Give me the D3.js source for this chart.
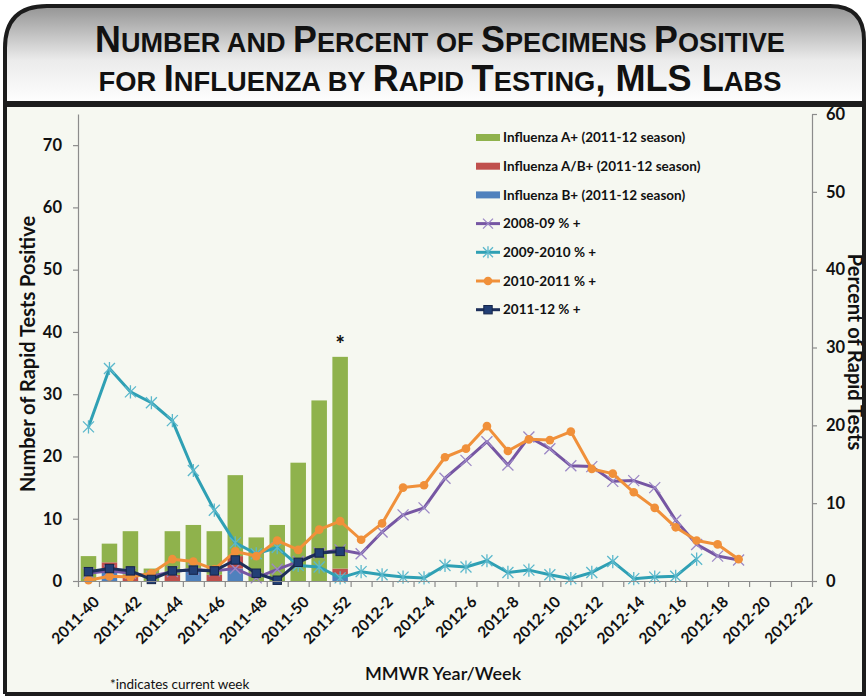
<!DOCTYPE html>
<html>
<head>
<meta charset="utf-8">
<script src="https://cdn.jsdelivr.net/npm/d3@7/dist/d3.min.js"></script>
<style>
  html, body { margin: 0; padding: 0; background: #ffffff; }
  svg { display: block; }
</style>
</head>
<body>
<svg id="chart" width="867" height="696"></svg>
<script>
// MMWR weeks, 2011-40 through 2012-22
const weeks = [
  "2011-40","2011-41","2011-42","2011-43","2011-44","2011-45","2011-46","2011-47",
  "2011-48","2011-49","2011-50","2011-51","2011-52",
  "2012-1","2012-2","2012-3","2012-4","2012-5","2012-6","2012-7","2012-8","2012-9",
  "2012-10","2012-11","2012-12","2012-13","2012-14","2012-15","2012-16","2012-17",
  "2012-18","2012-19","2012-20","2012-21","2012-22"
];

// Number of positive rapid tests, 2011-12 season (stacked)
const fluB  = [0, 2, 0, 0, 0, 2, 0, 2, 0, 0, 0, 0, 1];
const fluAB = [0, 1, 1, 0, 1, 0, 1, 2, 0, 0, 0, 0, 1];
const fluA  = [4, 3, 7, 2, 7, 7, 7, 13, 7, 9, 19, 29, 34];

// Percent of rapid tests positive, by season
const pct0809 = [1.0, 1.3, 1.0, 0.6, 1.2, 1.5, 1.3, 1.6, 0.4, 1.5, 2.5, 3.6, 4.0,
  3.5, 6.3, 8.5, 9.4, 13.2, 15.5, 17.9, 14.9, 18.5, 17.0, 14.8, 14.7, 12.8, 12.9,
  12.0, 7.8, 4.7, 3.2, 2.7];
const pct0910 = [19.8, 27.3, 24.3, 22.9, 20.6, 14.2, 9.1, 4.9, 3.5, 4.3, 2.0, 1.8, 0.4,
  1.2, 0.8, 0.5, 0.4, 2.0, 1.8, 2.6, 1.1, 1.4, 0.8, 0.3, 1.1, 2.5, 0.3, 0.5, 0.6, 2.8];
const pct1011 = [0.1, 0.6, 0.5, 1.0, 2.8, 2.5, 1.5, 3.8, 3.2, 5.2, 4.0, 6.6, 7.7,
  5.3, 7.4, 12.0, 12.3, 15.9, 17.0, 19.9, 16.7, 18.2, 18.1, 19.2, 14.4, 13.8, 11.4,
  9.4, 6.9, 5.2, 4.7, 2.8];
const pct1112 = [1.2, 1.6, 1.3, 0.2, 1.3, 1.4, 1.3, 2.7, 1.0, 0.1, 2.4, 3.6, 3.8];

const countTicks = [0, 10, 20, 30, 40, 50, 60, 70];
const pctTicks = [0, 10, 20, 30, 40, 50, 60];
const currentWeek = "2011-52";

const titleLines = [
  "Number and Percent of Specimens Positive",
  "for Influenza by Rapid Testing, MLS Labs"
];

const barSeries = [
  { name: "Influenza B+ (2011-12 season)",  values: fluB,  color: "#4f81bd" },
  { name: "Influenza A/B+ (2011-12 season)", values: fluAB, color: "#c0504d" },
  { name: "Influenza A+ (2011-12 season)",  values: fluA,  color: "#8fb24c" }
];
const lineSeries = [
  { name: "2008-09 % +",   values: pct0809, color: "#7656a3", mark: "x",      markColor: "#9c88c6" },
  { name: "2009-2010 % +", values: pct0910, color: "#2fa0b4", mark: "star",   markColor: "#5bb8cc" },
  { name: "2010-2011 % +", values: pct1011, color: "#f0903a", mark: "circle", markColor: "#f0903a" },
  { name: "2011-12 % +",   values: pct1112, color: "#1d2f5a", mark: "square", markColor: "#223f75" }
];

const W = 867, H = 696;
const plot = { left: 78, right: 812, top: 114, bottom: 581 };
const labelFont = "Lato, 'Open Sans', sans-serif";

const svg = d3.select("#chart");
const defs = svg.append("defs");

const hdr = defs.append("linearGradient").attr("id", "hdrGrad")
  .attr("x1", 0).attr("y1", 0).attr("x2", 0).attr("y2", 1);
hdr.append("stop").attr("offset", "0%").attr("stop-color", "#949494");
hdr.append("stop").attr("offset", "55%").attr("stop-color", "#ebebeb");
hdr.append("stop").attr("offset", "100%").attr("stop-color", "#ffffff");

// Panel background
svg.append("rect").attr("x", 5).attr("y", 100).attr("width", 859).attr("height", 593)
  .attr("fill", "#f6f8f1");

// Scales
const x = d3.scaleBand().domain(weeks).range([plot.left, plot.right])
  .paddingInner(0.26).paddingOuter(0.13);
const xEdge = d3.scaleLinear().domain([0, weeks.length]).range([plot.left, plot.right]);
const yCount = d3.scaleLinear().domain([0, 75]).range([plot.bottom, plot.top]);
const yPct = d3.scaleLinear().domain([0, 60]).range([plot.bottom, plot.top]);
const cx = w => x(w) + x.bandwidth() / 2;

// Stacked columns
const rows = weeks.map((w, i) => {
  const r = { week: w };
  barSeries.forEach(s => { r[s.name] = s.values[i] || 0; });
  return r;
}).filter((r, i) => i < fluA.length);
const stack = d3.stack().keys(barSeries.map(s => s.name))(rows);

const barG = svg.append("g");
stack.forEach((layer, k) => {
  barG.selectAll(null).data(layer).join("rect")
    .attr("x", d => x(d.data.week))
    .attr("width", x.bandwidth())
    .attr("y", d => yCount(d[1]))
    .attr("height", d => yCount(d[0]) - yCount(d[1]))
    .attr("fill", barSeries[k].color);
});

// Marker shapes
function drawMarker(g, type, color, size) {
  const s = size;
  if (type === "circle") {
    g.append("circle").attr("r", s * 0.62).attr("fill", color);
  } else if (type === "square") {
    g.append("rect").attr("x", -s * 0.6).attr("y", -s * 0.6)
      .attr("width", s * 1.2).attr("height", s * 1.2).attr("fill", color)
      .attr("stroke", "#16254a").attr("stroke-width", 1);
  } else if (type === "x") {
    g.append("path").attr("d", `M${-s},${-s}L${s},${s}M${-s},${s}L${s},${-s}`)
      .attr("stroke", color).attr("stroke-width", 1.3).attr("fill", "none");
  } else if (type === "star") {
    g.append("path")
      .attr("d", `M${-s},${-s}L${s},${s}M${-s},${s}L${s},${-s}M0,${-s * 1.2}L0,${s * 1.2}`)
      .attr("stroke", color).attr("stroke-width", 1.3).attr("fill", "none");
  }
}

// Percent lines
const lineG = svg.append("g");
lineSeries.forEach(s => {
  const pts = s.values.map((v, i) => [cx(weeks[i]), yPct(v)]);
  lineG.append("path")
    .attr("d", d3.line()(pts))
    .attr("fill", "none").attr("stroke", s.color).attr("stroke-width", 3)
    .attr("stroke-linejoin", "round");
  pts.forEach(p => {
    const m = lineG.append("g").attr("transform", `translate(${p[0]},${p[1]})`);
    drawMarker(m, s.mark, s.markColor, s.mark === "circle" ? 7 : (s.mark === "square" ? 7 : 5.5));
  });
});

// Current week marker
svg.append("text")
  .attr("x", cx(currentWeek)).attr("y", 352)
  .attr("text-anchor", "middle")
  .attr("font-family", labelFont).attr("font-weight", 900).attr("font-size", 22)
  .attr("fill", "#111").text("*");

// Axes
const axisColor = "#8c8c8c";
function styleAxis(g) {
  g.select(".domain").attr("stroke", axisColor).attr("stroke-width", 1.2);
  g.selectAll(".tick line").attr("stroke", axisColor).attr("stroke-width", 1.2);
  g.selectAll("text").attr("font-family", labelFont).attr("font-weight", 700)
    .attr("fill", "#111");
}

const leftAxis = svg.append("g").attr("transform", `translate(${plot.left},0)`)
  .call(d3.axisLeft(yCount).tickValues(countTicks).tickSize(5).tickSizeOuter(0).tickPadding(11));
styleAxis(leftAxis);
leftAxis.selectAll("text").attr("font-size", 16.5);

const rightAxis = svg.append("g").attr("transform", `translate(${plot.right},0)`)
  .call(d3.axisRight(yPct).tickValues(pctTicks).tickSize(5).tickSizeOuter(0).tickPadding(9));
styleAxis(rightAxis);
rightAxis.selectAll("text").attr("font-size", 16.5);

// Tick marks at every week boundary
const edgeAxis = svg.append("g").attr("transform", `translate(0,${plot.bottom})`)
  .call(d3.axisBottom(xEdge).tickValues(d3.range(weeks.length + 1)).tickFormat("")
    .tickSize(6).tickSizeOuter(0));
styleAxis(edgeAxis);

// Labels on every other week
const labelAxis = svg.append("g").attr("transform", `translate(0,${plot.bottom})`)
  .call(d3.axisBottom(x).tickValues(weeks.filter((w, i) => i % 2 === 0)).tickSize(0));
labelAxis.select(".domain").remove();
styleAxis(labelAxis);
labelAxis.selectAll("text")
  .attr("font-size", 15.5)
  .attr("text-anchor", "end")
  .attr("x", 0).attr("y", 0).attr("dy", "0.35em")
  .attr("transform", "translate(8,18) rotate(-45)");

// Axis titles
svg.append("text")
  .attr("transform", "translate(35,354) rotate(-90)")
  .attr("text-anchor", "middle")
  .attr("font-family", labelFont).attr("font-weight", 700).attr("font-size", 20)
  .attr("fill", "#111").text("Number of Rapid Tests Positive");

svg.append("text")
  .attr("transform", "translate(848,352) rotate(90)")
  .attr("text-anchor", "middle")
  .attr("font-family", labelFont).attr("font-weight", 700).attr("font-size", 20)
  .attr("fill", "#111").text("Percent of Rapid Tests");

svg.append("text")
  .attr("x", 443).attr("y", 680).attr("text-anchor", "middle")
  .attr("font-family", labelFont).attr("font-weight", 600).attr("font-size", 18)
  .attr("fill", "#111").text("MMWR Year/Week");

svg.append("text")
  .attr("x", 110).attr("y", 689)
  .attr("font-family", labelFont).attr("font-size", 13.5)
  .attr("fill", "#111").text("*indicates current week");

// Legend
const legendItems = [
  { name: barSeries[2].name, color: barSeries[2].color, type: "bar" },
  { name: barSeries[1].name, color: barSeries[1].color, type: "bar" },
  { name: barSeries[0].name, color: barSeries[0].color, type: "bar" },
  ...lineSeries.map(s => ({ name: s.name, color: s.color, type: "line", mark: s.mark, markColor: s.markColor }))
];
const legend = svg.append("g");
legendItems.forEach((it, i) => {
  const y = 137.5 + i * 28.7;
  const g = legend.append("g").attr("transform", `translate(476,${y})`);
  if (it.type === "bar") {
    g.append("rect").attr("x", 0).attr("y", -3.5).attr("width", 24).attr("height", 7)
      .attr("fill", it.color);
  } else {
    g.append("line").attr("x1", 0).attr("x2", 24).attr("y1", 0).attr("y2", 0)
      .attr("stroke", it.color).attr("stroke-width", 3);
    const m = g.append("g").attr("transform", "translate(12,0)");
    drawMarker(m, it.mark, it.markColor, it.mark === "circle" ? 7 : (it.mark === "square" ? 7 : 5));
  }
  g.append("text").attr("x", 27).attr("y", 0).attr("dy", "0.35em")
    .attr("font-family", labelFont).attr("font-weight", 700).attr("font-size", 13.5)
    .attr("fill", "#111").text(it.name);
});

// Header with rounded frame
svg.append("rect").attr("x", 0).attr("y", 0).attr("width", W).attr("height", 101).attr("fill", "#ffffff");
svg.append("path")
  .attr("d", "M5,104 V48 Q5,6 47,6 H830 Q864,6 864,40 V104 Z")
  .attr("fill", "url(#hdrGrad)");
svg.append("rect").attr("x", 3).attr("y", 101).attr("width", 863).attr("height", 6).attr("fill", "#1c1c1c");
svg.append("path")
  .attr("d", "M5,694 V48 Q5,6 47,6 H830 Q864,6 864,40 V694 H5")
  .attr("fill", "none").attr("stroke", "#1c1c1c").attr("stroke-width", 4);

// Title in small capitals, narrowed to fit the header
const titleFont = "'Liberation Sans', Arial, sans-serif";
const titleWidths = [690, 683];
titleLines.forEach((line, li) => {
  const y = 52 + li * 39;
  const t = svg.append("text").attr("x", 0).attr("y", 0)
    .attr("text-anchor", "middle")
    .attr("font-family", titleFont).attr("font-weight", 700)
    .attr("fill", "#111");
  let runs = [];
  for (const ch of line) {
    const big = !(ch >= "a" && ch <= "z");
    const last = runs[runs.length - 1];
    if (ch === " " && last) { last.text += " "; continue; }
    if (last && last.big === big) last.text += ch;
    else runs.push({ big, text: ch });
  }
  runs.forEach(r => {
    t.append("tspan").attr("font-size", r.big ? 37 : 28).text(r.big ? r.text : r.text.toUpperCase());
  });
  const len = t.node().getComputedTextLength();
  const sx = titleWidths[li] / len;
  t.attr("transform", `translate(440,${y}) scale(${sx},1)`);
});
</script>
</body>
</html>
